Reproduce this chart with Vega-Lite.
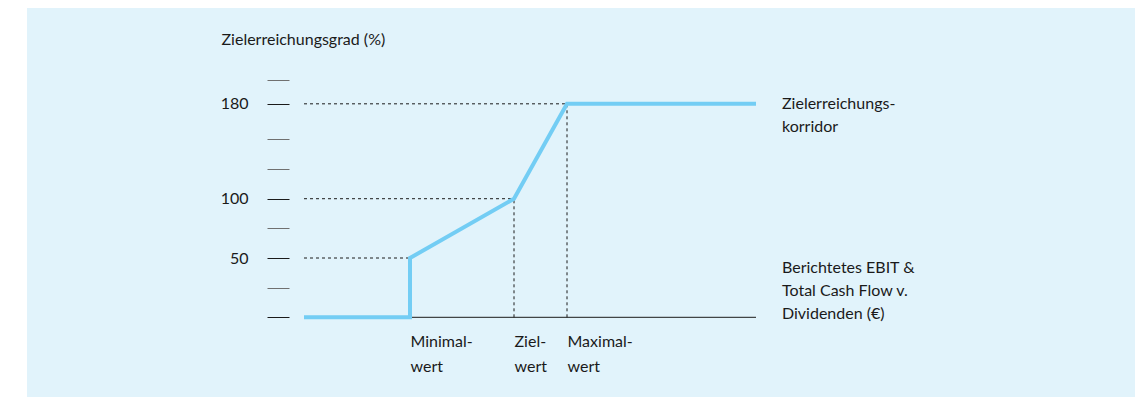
{
  "$schema": "https://vega.github.io/schema/vega-lite/v6.json",
  "width": 1108,
  "height": 389,
  "autosize": {"type": "none"},
  "padding": {"left": 27, "top": 8, "right": 10, "bottom": 0},
  "background": "white",
  "view": {"fill": "#e1f3fb", "stroke": null},
  "config": {"font": "Lato"},
  "datasets": {
    "curve": [
      {"step": 1, "ebit": 0, "grad": 0},
      {"step": 2, "ebit": 106, "grad": 0},
      {"step": 3, "ebit": 106, "grad": 50},
      {"step": 4, "ebit": 210, "grad": 100},
      {"step": 5, "ebit": 263, "grad": 180},
      {"step": 6, "ebit": 452, "grad": 180}
    ],
    "guides": [
      {"x1": 0, "x2": 106, "y1": 50, "y2": 50},
      {"x1": 0, "x2": 210, "y1": 100, "y2": 100},
      {"x1": 0, "x2": 263, "y1": 180, "y2": 180},
      {"x1": 210, "x2": 210, "y1": 0, "y2": 100},
      {"x1": 263, "x2": 263, "y1": 0, "y2": 180}
    ],
    "baseline": [{"x1": 0, "x2": 452, "y1": 0}],
    "notes": [
      {"ebit": 478, "grad": 180, "text": "Zielerreichungs-\nkorridor", "pos": "top"},
      {"ebit": 478, "grad": 0, "text": "Berichtetes EBIT &\nTotal Cash Flow v.\nDividenden (€)", "pos": "bottom"}
    ]
  },
  "layer": [
    {
      "data": {"name": "baseline"},
      "mark": {"type": "rule", "color": "#1a1a1a", "strokeWidth": 1},
      "encoding": {
        "x": {"field": "x1", "type": "quantitative", "scale": {"domain": [-277, 831], "nice": false, "zero": false},
          "axis": {
            "orient": "bottom", "offset": -77, "values": [106, 210, 263], "ticks": false, "domain": false, "grid": false,
            "labelExpr": "datum.value == 106 ? ['Minimal-', 'wert'] : datum.value == 210 ? ['Ziel-', 'wert'] : ['Maximal-', 'wert']",
            "labelAlign": "left", "labelBaseline": "top", "labelPadding": 13, "labelLineHeight": 25,
            "labelFontSize": 16, "labelFont": "Lato", "labelColor": "#1a1a1a",
            "labelOverlap": false, "labelBound": false, "labelFlush": false, "title": null
          }},
        "x2": {"field": "x2"},
        "y": {"field": "y1", "type": "quantitative", "scale": {"domain": [-67.2, 260.8], "nice": false, "zero": false},
          "axis": {
            "orient": "left", "offset": -262, "values": [0, 25, 50, 75, 100, 125, 150, 180, 200],
            "domain": false, "grid": false, "tickSize": 22, "tickWidth": 1,
            "tickColor": {"condition": {"test": "datum.value == 0 || datum.value == 50 || datum.value == 100 || datum.value == 180", "value": "#1a1a1a"}, "value": "#707070"},
            "labelExpr": "datum.value == 50 || datum.value == 100 || datum.value == 180 ? datum.label : ''",
            "labelPadding": 19, "labelFontSize": 16, "labelFont": "Lato", "labelColor": "#1a1a1a",
            "title": "Zielerreichungsgrad (%)", "titleAngle": 0, "titleAlign": "left", "titleBaseline": "alphabetic",
            "titleX": -68, "titleY": 36, "titleFont": "Lato", "titleFontSize": 16, "titleFontWeight": "normal", "titleColor": "#1a1a1a"
          }}
      }
    },
    {
      "data": {"name": "guides"},
      "mark": {"type": "rule", "color": "#1a1a1a", "strokeWidth": 1, "strokeDash": [3, 3]},
      "encoding": {
        "x": {"field": "x1", "type": "quantitative"},
        "x2": {"field": "x2"},
        "y": {"field": "y1", "type": "quantitative"},
        "y2": {"field": "y2"}
      }
    },
    {
      "data": {"name": "curve"},
      "mark": {"type": "line", "color": "#73cdf4", "strokeWidth": 4, "strokeJoin": "miter", "strokeCap": "butt"},
      "encoding": {
        "x": {"field": "ebit", "type": "quantitative"},
        "y": {"field": "grad", "type": "quantitative"},
        "order": {"field": "step", "type": "quantitative"}
      }
    },
    {
      "data": {"name": "notes"},
      "transform": [{"filter": "datum.pos == 'top'"}],
      "mark": {"type": "text", "align": "left", "baseline": "middle", "lineBreak": "\n", "lineHeight": 23, "fontSize": 16, "font": "Lato", "color": "#1a1a1a", "dy": 0},
      "encoding": {
        "x": {"field": "ebit", "type": "quantitative"},
        "y": {"field": "grad", "type": "quantitative"},
        "text": {"field": "text"}
      }
    },
    {
      "data": {"name": "notes"},
      "transform": [{"filter": "datum.pos == 'bottom'"}],
      "mark": {"type": "text", "align": "left", "baseline": "middle", "lineBreak": "\n", "lineHeight": 23, "fontSize": 16, "font": "Lato", "color": "#1a1a1a", "dy": -49},
      "encoding": {
        "x": {"field": "ebit", "type": "quantitative"},
        "y": {"field": "grad", "type": "quantitative"},
        "text": {"field": "text"}
      }
    }
  ]
}
